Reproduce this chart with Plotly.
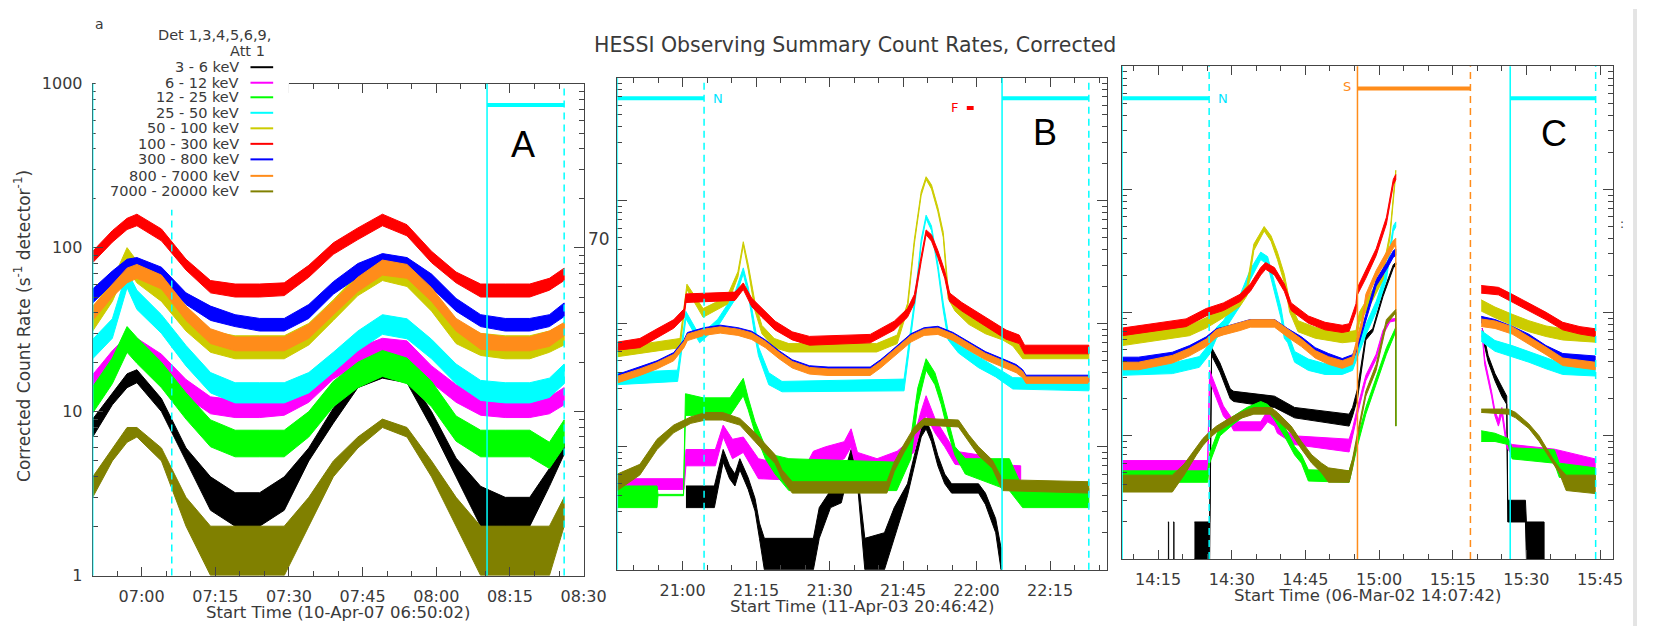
import math
from datetime import datetime, timedelta
import plotly.graph_objects as go

# ---------------- time axes (minutes after start of each panel) ----------------
A_START = datetime(2007, 4, 10, 6, 50, 2)
B_START = datetime(2003, 4, 11, 20, 46, 42)
C_START = datetime(2002, 3, 6, 14, 7, 42)
SPAN_MIN = 100

BANDS = ["3 - 6 keV", "6 - 12 keV", "12 - 25 keV", "25 - 50 keV", "50 - 100 keV",
         "100 - 300 keV", "300 - 800 keV", "800 - 7000 keV", "7000 - 20000 keV"]
COLORS = ["#000000", "#ff00ff", "#00ff00", "#00ffff", "#cccc00",
          "#ff0000", "#0000ff", "#ff8c1a", "#808000"]

# ---------------- Panel A (10-Apr-07) ----------------
A_T = [0, 4, 7, 9, 14, 19, 24, 29, 34, 39, 44, 49, 54, 59, 64, 69, 74, 79, 84, 89, 93, 96]
A_BLK_LO = [7, 11, 14, 15, 10, 5, 2.5, 2, 2, 2.5, 5, 8.5, 14, 16, 15, 8, 4, 2, 2, 2, 3.5, 5.5]
A_BLK_HI = [9, 13, 17, 18, 12, 6, 4, 3.2, 3.2, 4, 6, 10.5, 16, 18, 17, 10, 5.2, 3.5, 3, 3, 4.5, 7]
A_MAG_LO = [13.2, 18.5, 23, 22, 17.6, 12.3, 9.7, 9.2, 9.2, 9.5, 11.4, 15.8, 19.4, 22, 21, 15, 11.4, 9.5, 9.2, 9.2, 9.7, 11]
A_MAG_HI = [16.8, 23.5, 29, 28, 22.4, 15.7, 12.3, 11.8, 11.8, 12.1, 14.6, 20.2, 24.6, 28, 27, 19, 14.6, 12.1, 11.8, 11.8, 12.3, 14]
A_GRN_LO = [9.8, 14.8, 23, 19.7, 14, 9, 6.1, 5.3, 5.3, 5.3, 7, 10.7, 14, 16.4, 14.8, 10.7, 6.6, 5.3, 5.3, 5.3, 4.5, 6.1]
A_GRN_HI = [14.2, 21.2, 33, 28.3, 20, 13, 8.9, 7.7, 7.7, 7.7, 10, 15.3, 20, 23.6, 21.2, 15.3, 9.4, 7.7, 7.7, 7.7, 6.5, 8.9]
A_CYN_LO = [21, 28, 57, 42, 30, 19, 13, 11.3, 11.3, 11.3, 13, 17.4, 23.5, 29.6, 27.8, 21, 14.8, 11.7, 11.3, 11.3, 12.2, 14.8]
A_CYN_HI = [27.6, 36.8, 72, 55, 39, 25.3, 17.3, 15, 15, 15, 17.3, 23, 31, 39, 36.8, 27.6, 19.5, 15.5, 15, 15, 16, 19.5]
A_YEL_LO = [31, 47, 75, 61, 47, 31, 23, 21, 21, 21, 25.5, 36, 51, 63, 58, 41, 26, 22, 21, 21, 23, 25.5]
A_YEL_HI = [43, 63, 100, 83, 63, 41, 31, 29, 29, 29, 34.5, 48, 69, 85, 78, 55, 36, 30, 29, 29, 31, 34.5]
A_RED_LO = [81, 108, 129, 136, 110, 73, 53, 50, 50, 51, 66, 91, 112, 136, 118, 81, 61, 50, 50, 50, 55, 63]
A_RED_HI = [95, 127, 151, 160, 130, 85, 63, 60, 60, 61, 78, 107, 132, 160, 138, 95, 71, 60, 60, 60, 65, 75]
A_BLU_LO = [46, 60, 71, 73, 64, 45, 36, 33, 31, 31, 37, 52, 66, 76, 73, 57, 41, 33, 31, 31, 33, 38]
A_BLU_HI = [56, 72, 85, 87, 76, 53, 44, 39, 37, 37, 45, 62, 80, 92, 87, 69, 49, 39, 37, 37, 39, 46]
A_ORA_LO = [36, 50, 61, 65, 56, 36, 26, 23.5, 23.5, 23.5, 28, 39, 54, 68, 65, 47, 31, 24, 23.5, 23.5, 25, 29]
A_ORA_HI = [44, 60, 75, 79, 68, 44, 32, 28.5, 28.5, 28.5, 34, 47, 66, 84, 79, 57, 37, 30, 28.5, 28.5, 31, 35]
A_OLV_LO = [3, 5, 6.5, 7, 5, 2, 1, 1, 1, 1, 2, 4, 6, 8, 7, 4, 2, 1, 1, 1, 1, 2]
A_OLV_HI = [4, 6, 8, 8, 6, 3, 2, 2, 2, 2, 3, 5, 7, 9, 8, 5, 3, 2, 2, 2, 2, 3]

# ---------------- Panel B (11-Apr-03) ----------------
B_BLK_T = [14, 19.8, 21.6, 22.9, 24, 25, 26.7, 28.1, 29, 30, 40, 41.2, 43.5, 45.7, 47.7, 49.1, 50.5, 54.5, 56.5,
           59.2, 60.6, 62, 63, 64.1, 65.4, 66.8, 68.2, 73.7, 75.1, 77.2, 78.3]
B_BLK_LO = [3.2, 3.2, 7.5, 5.5, 4.8, 6.5, 4.5, 3, 1.8, 1, 1, 1.8, 3.2, 3.5, 7.5, 4.5, 1, 1, 1.8,
            4, 7, 12, 14, 11, 7, 5, 4.2, 4.2, 3.4, 2, 1]
B_BLK_HI = [4.8, 4.8, 9.5, 7, 6, 8, 5.6, 3.8, 2.4, 1.8, 1.8, 3.2, 4.4, 5, 9.5, 5.6, 1.8, 2, 3.2,
            5, 8.5, 14, 16.5, 13, 8.5, 6, 5, 5, 4.2, 2.6, 1.5]
B_MAG_T = [0, 13.6, 14, 20, 21.6, 23.5, 25.7, 28.8, 33.6, 38.6, 40, 42.5, 46.3, 47.7, 49, 53, 57.1, 60.5, 61.9,
           63, 64.8, 66.8, 68.9, 73.7, 76.5, 82.3]
B_MAG_LO = [4.5, 4.5, 7, 7, 12, 8, 9, 5.5, 5.4, 5.4, 6.8, 7, 8, 10, 6, 5.9, 6.8, 9, 14, 18, 13, 10, 7.2, 6.8, 5.4, 5.4]
B_MAG_HI = [5.5, 5.5, 9.5, 9.5, 15, 11.5, 12, 8, 7.2, 7.2, 9.2, 10, 11, 14, 9, 8, 9.2, 12, 19, 26, 17, 12.5, 9.2, 8.6, 7.2, 7]
B_GRN_T = [0, 8.1, 8.3, 13.5, 13.9, 17.5, 23, 25.7, 26.7, 28.1, 30.2, 32.2, 35, 57, 59.9, 61.3, 63, 64.8, 66.1,
           67.5, 68.9, 71, 80, 82.7, 96.2]
B_GRN_LO = [3.2, 3.2, 4.0, 4.0, 18, 18, 18, 26, 20, 13, 8, 6, 4.4, 4.4, 8, 22, 42, 32, 22, 13, 8.5, 6, 4.4, 3.2, 3.2]
B_GRN_HI = [4.8, 4.8, 4.1, 4.1, 27, 25, 25, 36, 25, 16, 10, 8.5, 8, 7.5, 12, 30, 52, 40, 27, 16, 10, 8, 8, 4.6, 4.6]
B_CYN_T = [0, 12.3, 13.6, 14.0, 16.8, 20.5, 23.9, 25.7, 26.7, 28.1, 28.8, 30.9, 33.6, 58.5, 59.9, 60.9, 62, 63,
           64.1, 65.4, 66.5, 67.5, 69.6, 73.7, 77.2, 80.7, 96.2]
B_CYN_LO = [32, 34, 84, 110, 70, 95, 155, 255, 175, 78, 55, 32, 28, 28.5, 78, 165, 445, 715, 575, 275, 128, 74,
            58, 44, 37, 29.5, 28.5]
B_CYN_HI = [40, 42, 96, 126, 80, 109, 175, 285, 199, 90, 65, 40, 34, 35.5, 90, 185, 485, 765, 625, 305, 148, 86,
            68, 54, 45, 36.5, 35.5]
B_YEL_T = [0, 12.8, 14.2, 17.5, 20.0, 22.5, 24.6, 25.7, 26.7, 28.1, 29.5, 32, 35, 52.9, 57.1, 59.2, 60.6, 62, 63,
           64.1, 65.4, 66.5, 67.5, 68.9, 71.7, 75.1, 78.6, 80.7, 82.7, 96.2]
B_YEL_LO = [54, 64, 190, 113, 127, 145, 240, 435, 275, 127, 83, 64, 59, 59, 69, 130, 445, 1110, 1490, 1250, 815,
            505, 160, 127, 99, 83, 74, 66, 52, 52]
B_YEL_HI = [64, 76, 210, 133, 149, 171, 265, 465, 305, 149, 97, 76, 69, 69, 81, 146, 485, 1190, 1570, 1350, 885,
            555, 190, 149, 117, 97, 86, 78, 62, 62]
B_RED_T = [0, 4.6, 8.1, 11.5, 13.6, 14.0, 24, 25.7, 27.4, 29.5, 32.2, 35.7, 39.2, 51.6, 56.5, 59.2, 60.6, 62, 63,
           64.1, 65.4, 66.8, 67.8, 70.3, 73.7, 76.5, 79.3, 82, 83.1, 96.2]
B_RED_LO = [61, 64, 77, 92, 112, 149, 155, 190, 138, 113, 89, 74, 67, 70, 89, 113, 147, 320, 530, 470, 345, 235,
            152, 127, 104, 89, 75, 69, 57, 57]
B_RED_HI = [71, 76, 91, 108, 132, 175, 181, 215, 162, 133, 105, 86, 79, 82, 105, 133, 173, 355, 580, 530, 395, 270,
            178, 149, 122, 105, 89, 81, 67, 67]
B_BLU_T = [0, 4.6, 8.1, 11.5, 13.6, 14.3, 17.7, 21, 24.6, 27.4, 30.2, 33, 35.7, 39.2, 43, 51.6, 53.7, 55.7, 57.7,
           59.9, 62.6, 65.4, 68.5, 71.7, 75.1, 78.6, 81.4, 82.7, 83.4, 96.2]
B_BLU_LO = [34.3, 39.5, 44, 51.7, 66, 75, 83, 86.5, 83, 77, 66, 53.6, 45, 40.4, 39.5, 39.5, 45, 52.6, 62, 73, 83,
            84.6, 75, 63, 52.6, 46, 41.4, 37.6, 33.8, 33.8]
B_BLU_HI = [38.7, 44.5, 50, 58.3, 74, 85, 93, 97.5, 93, 87, 74, 60.4, 51, 45.6, 44.5, 44.5, 51, 59.4, 70, 83, 93,
            95.4, 85, 71, 59.4, 52, 46.6, 42.4, 38.2, 38.2]
B_ORA_T = [0, 4.6, 8.1, 11.5, 13.6, 14.3, 17.7, 21, 24.6, 27.4, 30.2, 33, 35.7, 39.2, 43, 51.6, 53.7, 55.7, 57.7,
           59.9, 62.6, 65.4, 68.5, 71.7, 75.1, 78.6, 81.4, 82.7, 83.4, 96.2]
B_ORA_LO = [33, 38, 43, 50, 64, 73, 80.5, 84, 80.5, 74.6, 64, 52, 43.7, 39, 38, 38, 43.7, 51, 60, 71, 80.5, 82, 73,
            61, 51, 44.6, 40, 36.5, 32.8, 32.8]
B_ORA_HI = [37.5, 43, 48.5, 56.5, 72, 82.5, 90.5, 94.5, 90.5, 84.5, 72, 58.6, 49.4, 44.2, 43, 43, 49.4, 57.6, 68,
            80.5, 90.5, 92.5, 82.5, 69, 57.6, 50.4, 45, 41, 37, 37]
B_OLV_T = [0, 4.6, 8.1, 11.5, 15, 18, 21.5, 25, 28.1, 32.2, 33.6, 35.7, 55, 56.5, 58.5, 60.6, 62.6, 69.6, 71.7,
           73.7, 76.5, 78.6, 96.2]
B_OLV_LO = [4.4, 5.9, 9.5, 13, 15.5, 16.5, 16.5, 15, 11, 7.3, 5.5, 4.2, 4.2, 6.3, 9, 12.5, 15, 14.5, 11, 8.5, 6.7, 4.4, 4.2]
B_OLV_HI = [6, 7.2, 11.5, 15, 17.5, 19, 19, 17, 13, 8.6, 6.5, 5.2, 5.2, 7.5, 10.5, 14.5, 17, 16.5, 12.5, 10, 7.8, 5.4, 5.2]

# ---------------- Panel C (06-Mar-02); None = data gap ----------------
C_BLK_T = [9.3, 9.45, None, 10.4, 10.55, None, 14.7, 17.8, 18.2, 19.9, 22, 22.7, 31, 35.1, 46.2, 46.9, 47.9, 48.9,
           49.6, 51, 53.1, 55.2, 55.7, None, 73.3, 74.5, 75.9, 77.3, 78.3, 78.5, 82.1, 82.3, 85.9]
C_BLK_LO = [1, 1, None, 1, 1, None, 1, 1, 45, 33, 20, 19, 17, 14, 12, 14.5, 20, 38,
            60, 70, 135, 230, 245, None, 65, 40, 28, 21, 18, 2, 2, 1, 1]
C_BLK_HI = [2, 2, None, 2, 2, None, 2, 2, 52, 39, 24, 23, 21, 17, 15, 17, 24, 42,
            66, 74, 145, 245, 255, None, 75, 45, 32, 25, 21, 3, 3, 2, 2]
C_MAG_T = [0, 17.4, 17.8, 19.2, 20.6, 22, 22.7, 28.2, 29.6, 31, 31.6, 35.1, 46.2, 46.9, 47.9, 49.6, 51.7, 53.1,
           54.5, 55.7, None, 73.3, 73.8, 75.2, 75.9, 76.6, 77.3, 78.3, 79.4, 88, 96.3]
C_MAG_LO = [5.2, 5.2, 28, 20, 14.5, 12.5, 11, 11, 13, 12, 10.5, 8.5, 7.4, 10, 15, 28, 42, 66, 84, 86, None,
            65, 38, 21, 14.5, 12, 15, 8, 7, 6.2, 5.3]
C_MAG_HI = [6.3, 6.3, 34, 24, 17.5, 14.5, 13, 13, 16, 14, 12, 10, 9.4, 11.5, 17, 31, 46, 72, 88, 90, None,
            75, 42, 23, 16, 13.5, 17, 9, 8.5, 7.8, 6.5]
C_GRN_T = [0, 17.4, 17.8, 19.9, 22.7, 25.4, 28.2, 29.6, 31, 33, 35.1, 36.5, 37.9, 46.2, 46.9, 47.9, 49.6, 51.7,
           53.8, 55.7, 55.72, None, 73.1, 75.9, 78.6, 79.4, 88, 89, 96.3]
C_GRN_LO = [4.2, 4.2, 6, 10, 12.5, 15, 17, 16, 13.5, 10, 7, 6, 4.3, 4.2, 5.5, 8.3, 15, 26, 46, 70, 12, None,
            9, 9, 8.5, 6.5, 6, 4.6, 4.3]
C_GRN_HI = [5.2, 5.2, 7.2, 12, 14.5, 17, 19, 18, 15.5, 12, 8.2, 7, 5.3, 5.2, 6.4, 9.5, 17, 30, 52, 76, 12, None,
            11, 10.5, 9.5, 8, 7.7, 6, 5.5]
C_CYN_T = [0, 10.2, 15.7, 17.8, 19.2, 20.6, 24, 26.1, 28.2, 29.6, 31, 32.3, 33, 33.7, 35.1, 37.9, 41.3, 44.8, 46.9,
           48.3, 49.6, 51.7, 53.8, 55.2, 55.7, None, 73.1, 75.9, 79.4, 82.8, 86.3, 89.7, 96.3]
C_CYN_LO = [31, 32, 36, 46, 62, 70, 113, 185, 270, 245, 145, 91, 62, 57, 39.6, 34, 31.5, 31.5, 34, 48.6, 66, 101,
            185, 455, 495, None, 58.5, 48.6, 44, 39.6, 35, 31.5, 30.6]
C_CYN_HI = [38, 39, 44, 56, 76, 86, 139, 225, 310, 285, 176, 111, 76, 69, 48.4, 42, 38.5, 38.5, 42, 59.4, 80, 123,
            225, 505, 545, None, 71.5, 59.4, 54, 48.4, 43, 38.5, 37.4]
C_YEL_T = [0, 13.7, 17.1, 20.6, 24, 25.4, 26.8, 28.9, 30.3, 31.6, 33, 34.1, 35.8, 39.3, 44.8, 47.6, 48.3, 51, 53.1,
           54.5, 55.7, None, 73.1, 75.9, 79.4, 82.8, 86.3, 89.7, 96.3]
C_YEL_LO = [54, 65, 75, 91, 113, 137, 320, 460, 380, 270, 175, 101, 70, 62, 57, 58.5, 83, 126, 185, 400, 1330, None,
            103, 91, 79, 70, 64, 60, 57.6]
C_YEL_HI = [66, 79, 91, 111, 139, 167, 360, 500, 420, 310, 205, 123, 86, 76, 69, 71.5, 101, 154, 225, 440, 1430, None,
            127, 111, 97, 86, 78, 74, 70.4]
C_RED_T = [0, 13, 17.1, 20.6, 24, 26.1, 28.2, 29.2, 31, 33, 34.4, 37.9, 41.3, 44.8, 46.2, 47.6, 47.9, 49.6, 51.7,
           53.8, 55.2, 55.7, None, 73.1, 76.6, 79.4, 82.8, 86.3, 89.7, 93.2, 96.3]
C_RED_LO = [65, 77, 94, 104, 123, 149, 202, 225, 202, 149, 104, 82, 72.5, 69, 70.7, 102, 140, 190, 290, 525, 1090,
            1200, None, 144, 139.5, 123, 104, 87.4, 72.5, 67, 64]
C_RED_HI = [75, 89, 108, 120, 141, 171, 232, 255, 232, 171, 120, 94, 83.5, 79, 81.3, 118, 160, 220, 330, 595, 1210,
            1320, None, 166, 160.5, 141, 120, 100.6, 83.5, 77, 74]
C_BLU_T = [0, 3.3, 10.2, 13.7, 17.1, 19.2, 20.6, 24, 26.1, 31, 32.3, 33.7, 36.5, 39.3, 42, 44.8, 46.9, 47.9, 48.9,
           50.3, 51.7, 53.8, 55.2, 55.7, None, 73.1, 75.9, 79.4, 82.8, 86.3, 89.7, 96.3]
C_BLU_LO = [38.5, 38.5, 42.3, 48, 56.4, 65.8, 67.7, 73.3, 78, 78, 71.4, 65.8, 56.4, 46, 41.4, 37.6, 40.4, 50.8,
            68.6, 105, 164.5, 224, 282, 291, None, 82.7, 78, 68.6, 59.2, 48, 41.4, 39.5]
C_BLU_HI = [43.5, 43.5, 47.7, 54, 63.6, 74.2, 76.3, 82.7, 88, 88, 80.6, 74.2, 63.6, 52, 46.6, 42.4, 45.6, 57.2,
            77.4, 119, 185.5, 252, 318, 329, None, 93.3, 88, 77.4, 66.8, 54, 46.6, 44.5]
C_ORA_T = [0, 3.3, 10.2, 13.7, 17.1, 19.2, 20.6, 24, 26.1, 31, 32.3, 33.7, 36.5, 39.3, 42, 44.8, 46.9, 47.9, 48.9,
           49.6, 51.7, 53.8, 55.2, 55.7, 55.72, None, 73.1, 75.9, 79.4, 82.8, 86.3, 89.7, 96.3]
C_ORA_LO = [34.4, 34.4, 39, 44.6, 53, 63.2, 66, 71.6, 76.3, 76.3, 69.8, 63.2, 53, 42.8, 38.1, 35.3, 38.1, 55.8,
            79, 123, 190.6, 270, 335, 350, 61, None, 77.2, 74.4, 67, 55.8, 45.6, 37.2, 34.4]
C_ORA_HI = [39.6, 39.6, 45, 51.4, 61, 72.8, 76, 82.4, 87.7, 87.7, 80.3, 72.8, 61, 49.2, 43.9, 40.7, 43.9, 64.2,
            91, 141, 219.4, 310, 385, 402, 63, None, 88.8, 85.6, 77, 64.2, 52.4, 42.8, 39.6]
C_OLV_T = [0, 10.2, 12.6, 15.1, 16.4, 17.8, 19.2, 21.3, 24, 26.8, 30.3, 31.6, 34.4, 36.5, 38.6, 40.6, 42, 46.2,
           46.9, 47.9, 49.6, 51.7, 53.8, 55.7, 55.72, None, 73.1, 78.6, 80.1, 82.8, 84.9, 86.3, 87.7, 89, 90.4, 96.3]
C_OLV_LO = [3.5, 3.5, 4.8, 7, 8.3, 9.6, 10.7, 12, 13.8, 15, 15, 13.5, 10.5, 7.8, 6, 5, 4.2, 4.2, 5.5, 9.5, 21, 34,
            80, 100, 12, None, 15.5, 15, 14, 11.5, 9, 7.3, 6, 5, 3.6, 3.4]
C_OLV_HI = [4.8, 4.8, 5.9, 8, 9.5, 10.8, 12, 13.5, 15.5, 17, 17, 15.5, 12, 9, 7, 6, 5.5, 5.2, 6.5, 10.5, 23, 38,
            88, 106, 12, None, 16.5, 16.5, 15.5, 12.5, 10, 8, 6.5, 5.5, 4.8, 4.8]

# ---------------- observing-mode markers (minutes) ----------------
A_SOLID = [0, 80.3]; A_DASH = [16.1, 96.0]; A_NIGHT = [(80.3, 96.0)]; A_NIGHT_LEVEL = 741
B_SOLID = [0, 78.5]; B_DASH = [17.7, 96.2]; B_NIGHT = [(0, 17.7), (78.5, 96.2)]; B_NIGHT_LEVEL = 6830
C_SOLID = [0, 79.0]; C_DASH = [17.7, 96.4]; C_NIGHT = [(0, 17.7), (79.0, 96.4)]; C_NIGHT_LEVEL = 5500
C_SAA_START, C_SAA_END, C_SAA_LEVEL = 47.9, 70.9, 6590
B_FLARE_T, B_FLARE_BAR, B_FLARE_LEVEL = 68.7, (71.3, 72.7), 5690
TRIANGLE_T = {"A": 49.1, "B": 31.5, "C": 41.7}

W, H = 1660, 636
def PX(x): return x / W
def PY(y): return 1 - y / H

def tm(start, t):
    return start + timedelta(minutes=t)

def band_xy(start, T, LO, HI):
    xs, ys, seg = [], [], []
    def flush():
        if seg:
            ts = [tm(start, s[0]) for s in seg]
            xs.extend(ts + ts[::-1] + [None])
            ys.extend([s[2] for s in seg] + [s[1] for s in seg][::-1] + [None])
    for t, lo, hi in zip(T, LO, HI):
        if t is None:
            flush(); seg.clear()
        else:
            seg.append((t, lo, hi))
    flush()
    return xs, ys

PANEL_A = [(A_T, A_BLK_LO, A_BLK_HI), (A_T, A_MAG_LO, A_MAG_HI), (A_T, A_GRN_LO, A_GRN_HI),
           (A_T, A_CYN_LO, A_CYN_HI), (A_T, A_YEL_LO, A_YEL_HI), (A_T, A_RED_LO, A_RED_HI),
           (A_T, A_BLU_LO, A_BLU_HI), (A_T, A_ORA_LO, A_ORA_HI), (A_T, A_OLV_LO, A_OLV_HI)]
PANEL_B = [(B_BLK_T, B_BLK_LO, B_BLK_HI), (B_MAG_T, B_MAG_LO, B_MAG_HI), (B_GRN_T, B_GRN_LO, B_GRN_HI),
           (B_CYN_T, B_CYN_LO, B_CYN_HI), (B_YEL_T, B_YEL_LO, B_YEL_HI), (B_RED_T, B_RED_LO, B_RED_HI),
           (B_BLU_T, B_BLU_LO, B_BLU_HI), (B_ORA_T, B_ORA_LO, B_ORA_HI), (B_OLV_T, B_OLV_LO, B_OLV_HI)]
PANEL_C = [(C_BLK_T, C_BLK_LO, C_BLK_HI), (C_MAG_T, C_MAG_LO, C_MAG_HI), (C_GRN_T, C_GRN_LO, C_GRN_HI),
           (C_CYN_T, C_CYN_LO, C_CYN_HI), (C_YEL_T, C_YEL_LO, C_YEL_HI), (C_RED_T, C_RED_LO, C_RED_HI),
           (C_BLU_T, C_BLU_LO, C_BLU_HI), (C_ORA_T, C_ORA_LO, C_ORA_HI), (C_OLV_T, C_OLV_LO, C_OLV_HI)]

panels = [
    dict(key="A", start=A_START, series=PANEL_A, ax=("x", "y"), box=(94, 592, 77, 584), yr=[0, 3],
         solid=A_SOLID, dash=A_DASH, night=A_NIGHT, nlev=A_NIGHT_LEVEL,
         xtitle="Start Time (10-Apr-07 06:50:02)", letter=(530, 140)),
    dict(key="B", start=B_START, series=PANEL_B, ax=("x2", "y2"), box=(626, 1123, 71, 578), yr=[0, 4],
         solid=B_SOLID, dash=B_DASH, night=B_NIGHT, nlev=B_NIGHT_LEVEL,
         xtitle="Start Time (11-Apr-03 20:46:42)", letter=(1060, 127)),
    dict(key="C", start=C_START, series=PANEL_C, ax=("x3", "y3"), box=(1138, 1636, 59, 567), yr=[0, 4],
         solid=C_SOLID, dash=C_DASH, night=C_NIGHT, nlev=C_NIGHT_LEVEL,
         xtitle="Start Time (06-Mar-02 14:07:42)", letter=(1576, 128)),
]

fig = go.Figure()
shapes, annos = [], []
AX = "#444444"
TXT = "#3a3a3a"
FONT = "DejaVu Sans"

def note(x, y, text, size, color=TXT, xanchor="center", yanchor="middle", family=FONT, **kw):
    d = dict(x=x, y=y, text=text, showarrow=False, xanchor=xanchor, yanchor=yanchor,
             font=dict(size=size, color=color, family=family))
    d.setdefault("xref", "paper"); d.setdefault("yref", "paper")
    d.update(kw)
    annos.append(d)

minor_vals = [m * 10 ** d for d in range(0, 4) for m in range(2, 10)]

for i, p in enumerate(panels):
    xa, ya = p["ax"]
    st = p["start"]
    for (T, LO, HI), col in zip(p["series"], COLORS):
        xs, ys = band_xy(st, T, LO, HI)
        fig.add_trace(go.Scatter(x=xs, y=ys, xaxis=xa, yaxis=ya, mode="lines", fill="toself",
                                 fillcolor=col, line=dict(color=col, width=1), hoverinfo="skip"))
    for (t0, t1) in p["night"]:
        fig.add_trace(go.Scatter(x=[tm(st, t0), tm(st, t1)], y=[p["nlev"], p["nlev"]], xaxis=xa, yaxis=ya,
                                 mode="lines", line=dict(color="#00ffff", width=4), hoverinfo="skip"))
    for t in p["solid"]:
        shapes.append(dict(type="line", xref=xa, yref=ya + " domain", x0=tm(st, t), x1=tm(st, t), y0=0, y1=1,
                           line=dict(color="#00ffff", width=1.5), layer="above"))
    for t in p["dash"]:
        shapes.append(dict(type="line", xref=xa, yref=ya + " domain", x0=tm(st, t), x1=tm(st, t), y0=0, y1=1,
                           line=dict(color="#00ffff", width=1.5, dash="7px,5px"), layer="above"))
    yl = p["yr"][0] - (0.026 if p["key"] == "A" else 0.034)
    fig.add_trace(go.Scatter(x=[tm(st, TRIANGLE_T[p["key"]])], y=[10 ** yl], xaxis=xa, yaxis=ya, mode="markers",
                             marker=dict(symbol="triangle-up", size=9, color="#ff0000"), cliponaxis=False,
                             hoverinfo="skip"))
    x0, x1, y0, y1 = p["box"]
    xaxis = dict(domain=[PX(x0), PX(x1)], anchor=ya, type="date",
                 range=[st, tm(st, SPAN_MIN)], tickformat="%H:%M",
                 tick0=st.replace(minute=0, second=0), dtick=15 * 60 * 1000,
                 ticks="inside", ticklen=9, tickwidth=1, tickcolor=AX,
                 minor=dict(ticks="inside", ticklen=5, tickwidth=1, tickcolor=AX,
                            dtick=5 * 60 * 1000, tick0=st.replace(minute=0, second=0), showgrid=False),
                 showline=True, linecolor=AX, linewidth=1, mirror="ticks", showgrid=False, zeroline=False,
                 tickfont=dict(size=16, color=TXT, family=FONT), ticklabelstandoff=6)
    dec = [10 ** d for d in range(0, p["yr"][1] + 1)]
    yaxis = dict(domain=[PY(y1), PY(y0)], anchor=xa, type="log", range=p["yr"],
                 tickvals=dec, ticktext=[str(v) for v in dec], showticklabels=(p["key"] == "A"),
                 ticks="inside", ticklen=10, tickwidth=1, tickcolor=AX,
                 minor=dict(ticks="inside", ticklen=5, tickwidth=1, tickcolor=AX,
                            tickvals=[v for v in minor_vals if v < 10 ** p["yr"][1]], showgrid=False),
                 showline=True, linecolor=AX, linewidth=1, mirror="ticks", showgrid=False, zeroline=False,
                 tickfont=dict(size=16, color=TXT, family=FONT), ticklabelstandoff=6)
    sfx = "" if i == 0 else str(i + 1)
    fig.update_layout(**{"xaxis" + sfx: xaxis, "yaxis" + sfx: yaxis})
    note(PX((x0 + x1) / 2), PY(y1 + 38), p["xtitle"], 16.5)
    lx, ly = p["letter"]
    note(PX(lx), PY(ly), p["key"], 36, color="#000000", family="Liberation Sans")

# night / flare / SAA annotations
note(tm(B_START, B_DASH[0]), math.log10(B_NIGHT_LEVEL), "N", 13, color="#00e5ff", xanchor="left",
     xref="x2", yref="y2", xshift=7)
note(tm(B_START, B_FLARE_T), math.log10(B_FLARE_LEVEL), "F", 13, color="#ff0000", xref="x2", yref="y2")
fig.add_trace(go.Scatter(x=[tm(B_START, B_FLARE_BAR[0]), tm(B_START, B_FLARE_BAR[1])],
                         y=[B_FLARE_LEVEL, B_FLARE_LEVEL], xaxis="x2", yaxis="y2", mode="lines",
                         line=dict(color="#ff0000", width=4), hoverinfo="skip"))
note(tm(C_START, C_DASH[0]), math.log10(C_NIGHT_LEVEL), "N", 13, color="#00e5ff", xanchor="left",
     xref="x3", yref="y3", xshift=7)
fig.add_trace(go.Scatter(x=[tm(C_START, C_SAA_START), tm(C_START, C_SAA_END)], y=[C_SAA_LEVEL, C_SAA_LEVEL],
                         xaxis="x3", yaxis="y3", mode="lines", line=dict(color="#ff8c1a", width=4), hoverinfo="skip"))
shapes.append(dict(type="line", xref="x3", yref="y3 domain", x0=tm(C_START, C_SAA_START), x1=tm(C_START, C_SAA_START),
                   y0=0, y1=1, line=dict(color="#ff8c1a", width=1.5), layer="above"))
shapes.append(dict(type="line", xref="x3", yref="y3 domain", x0=tm(C_START, C_SAA_END), x1=tm(C_START, C_SAA_END),
                   y0=0, y1=1, line=dict(color="#ff8c1a", width=1.5, dash="7px,5px"), layer="above"))
note(tm(C_START, C_SAA_START), math.log10(6840), "S", 13, color="#ff8c1a", xanchor="right",
     xref="x3", yref="y3", xshift=-4)

# legend block (white box over the top-left of panel A)
shapes.append(dict(type="rect", xref="paper", yref="paper", x0=PX(97), x1=PX(293), y0=PY(207), y1=1,
                   fillcolor="white", line=dict(width=0), layer="above"))
note(PX(101), PY(15), "a", 14)
note(PX(277), PY(27), "Det 1,3,4,5,6,9,", 14.5, xanchor="right")
note(PX(271), PY(43), "Att 1", 14.5, xanchor="right")
LEG_Y = [60, 76, 91, 107, 123, 139, 155, 172, 188]
for lab, col, yy in zip(BANDS, COLORS, LEG_Y):
    note(PX(244), PY(yy), lab, 14.5, xanchor="right")
    shapes.append(dict(type="line", xref="paper", yref="paper", x0=PX(254), x1=PX(277), y0=PY(yy), y1=PY(yy),
                       line=dict(color=col, width=2), layer="above"))

# titles and stray labels
note(PX(867), PY(37), "HESSI Observing Summary Count Rates, Corrected", 20.5)
note(PX(23), PY(327), "Corrected Count Rate (s<sup>-1</sup> detector<sup>-1</sup>)", 17, textangle=-90)
note(PX(607), PY(237), "70", 17)
note(PX(1645), PY(222), ":", 12)
shapes.append(dict(type="rect", xref="paper", yref="paper", x0=PX(1656), x1=1, y0=0, y1=1,
                   fillcolor="#e4e4e4", line=dict(width=0), layer="above"))

fig.update_layout(width=W, height=H, margin=dict(l=0, r=0, t=0, b=0), showlegend=False,
                  paper_bgcolor="white", plot_bgcolor="white", shapes=shapes, annotations=annos,
                  font=dict(family=FONT, color=TXT))
fig.write_html("out.html", config={"displayModeBar": False})
